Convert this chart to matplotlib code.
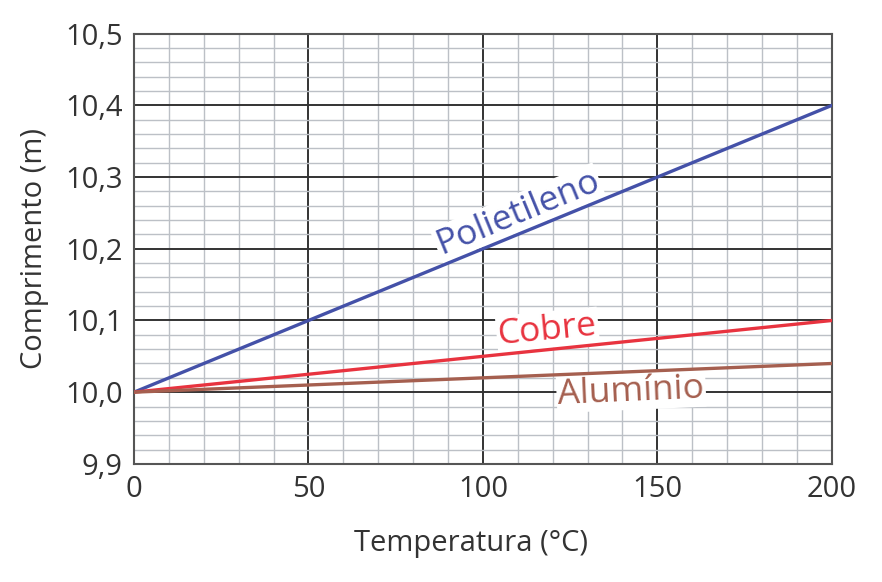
import numpy as np
import matplotlib
matplotlib.use('Agg')
import matplotlib.pyplot as plt
from matplotlib.ticker import MultipleLocator, FuncFormatter

temperatures = [0, 200]
polietileno = [10.0, 10.4]
cobre = [10.0, 10.1]
aluminio = [10.0, 10.04]

x_ticks = [0, 50, 100, 150, 200]
y_ticks = [9.9, 10.0, 10.1, 10.2, 10.3, 10.4, 10.5]

plt.rcParams['font.family'] = ['Open Sans', 'DejaVu Sans']
text_color = '#333333'

fig = plt.figure(figsize=(8.82, 5.82), dpi=100)
ax = fig.add_axes([0.152, 0.203, 0.791, 0.739])

ax.plot(temperatures, polietileno, color='#4451a8', lw=2.4, zorder=5)
ax.plot(temperatures, cobre, color='#e8333f', lw=2.4, zorder=5)
ax.plot(temperatures, aluminio, color='#a55f4f', lw=2.4, zorder=5)

ax.set_xlim(0, 200)
ax.set_ylim(9.9, 10.5)
ax.set_xticks(x_ticks)
ax.set_yticks(y_ticks)
ax.yaxis.set_major_formatter(FuncFormatter(lambda v, p: f'{v:.1f}'.replace('.', ',')))
ax.xaxis.set_minor_locator(MultipleLocator(10))
ax.yaxis.set_minor_locator(MultipleLocator(0.02))
ax.grid(which='major', color='#333333', lw=1.4, zorder=1)
ax.grid(which='minor', color='#bcc0c6', lw=1.0, zorder=0)
ax.tick_params(which='both', length=0, labelsize=21, colors=text_color, pad=8)
for s in ax.spines.values():
    s.set_color('#555555')
    s.set_linewidth(1.5)

ax.set_xlabel('Temperatura (°C)', fontsize=21, color=text_color, labelpad=18)
ax.xaxis.label.set_x(0.483)
ax.set_ylabel('Comprimento (m)', fontsize=21, color=text_color, labelpad=12)

# labels sit on white boxes, drawn under the lines
box = dict(facecolor='white', edgecolor='none', pad=1.0)
ax.text(110, 10.25, 'Polietileno', color='#4451a8', fontsize=25.5, rotation=22.4,
        ha='center', va='center', rotation_mode='anchor', bbox=box, zorder=4)
ax.text(118.5, 10.087, 'Cobre', color='#e8333f', fontsize=25.5, rotation=5.5,
        ha='center', va='center', rotation_mode='anchor', bbox=box, zorder=4)
ax.text(142.5, 10.001, 'Alumínio', color='#a55f4f', fontsize=25.5, rotation=2.5,
        ha='center', va='center', rotation_mode='anchor', bbox=box, zorder=4)

fig.savefig('out.png', dpi=100)
